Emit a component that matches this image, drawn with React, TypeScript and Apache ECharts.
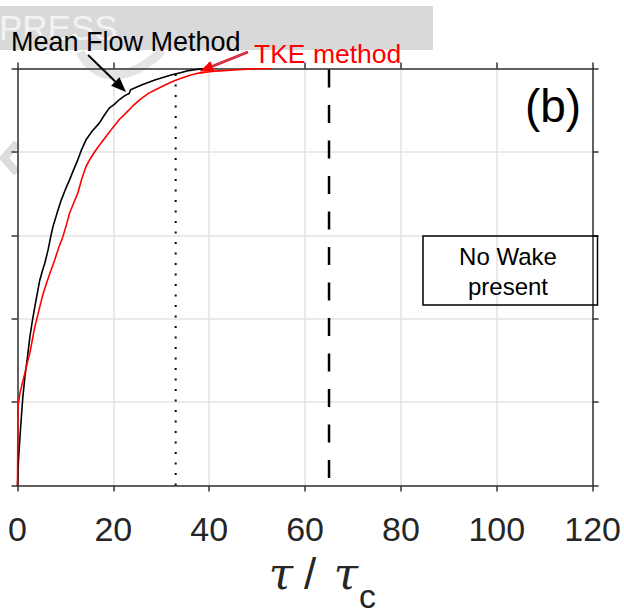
import React, { useEffect, useRef } from "react";
import * as echarts from "echarts";

// Tick labels
const xTicks = [0, 20, 40, 60, 80, 100, 120];

// Mean Flow Method (black) cumulative curve
const meanX = [0, 0.2, 0.66, 1.1, 1.55, 2.1, 2.59, 3.1, 3.62, 4.15, 4.66, 5.2, 5.69, 6.38, 6.9, 7.41, 8.3, 9.14, 10.0, 10.86, 11.7, 12.58, 13.4, 14.3, 15.6, 17.07, 18.1, 19.14, 20.2, 21.2, 22.4, 23.3, 23.6, 24.8, 26.0, 27.4, 28.8, 30.5, 32.2, 34.0, 35.7, 37.0, 38.4, 40.0];
const meanY = [0, 0.06, 0.141, 0.21, 0.261, 0.31, 0.357, 0.395, 0.429, 0.462, 0.493, 0.515, 0.533, 0.565, 0.595, 0.621, 0.655, 0.685, 0.71, 0.733, 0.757, 0.781, 0.806, 0.829, 0.85, 0.869, 0.888, 0.905, 0.914, 0.925, 0.935, 0.94, 0.949, 0.955, 0.961, 0.967, 0.973, 0.979, 0.985, 0.99, 0.995, 0.997, 0.999, 1.0];

// TKE method (red) cumulative curve
const tkeX = [0, 0.05, 0.1, 0.52, 1.0, 1.55, 2.05, 2.59, 3.1, 3.62, 4.15, 4.66, 5.3, 6.04, 6.9, 7.76, 8.6, 9.48, 10.2, 10.86, 11.7, 12.58, 13.4, 14.3, 15.3, 16.4, 17.4, 18.46, 19.8, 21.2, 22.6, 23.96, 25.6, 27.4, 29.1, 30.9, 32.6, 34.3, 36.0, 37.8, 40.5, 43.0, 46.0, 49.0, 53.0];
const tkeY = [0, 0.1, 0.19, 0.222, 0.245, 0.27, 0.295, 0.318, 0.35, 0.381, 0.405, 0.429, 0.458, 0.485, 0.513, 0.541, 0.57, 0.597, 0.625, 0.653, 0.677, 0.701, 0.735, 0.765, 0.786, 0.805, 0.821, 0.837, 0.857, 0.877, 0.893, 0.909, 0.926, 0.941, 0.951, 0.961, 0.97, 0.977, 0.984, 0.989, 0.993, 0.995, 0.997, 0.999, 1.0];

// Reference lines
const dottedX = 33;
const dashedX = 65;

const FONT = "'Liberation Sans', Arial, Helvetica, sans-serif";
const AX = "#333333";

function pairs(xs: number[], ys: number[]) {
  return xs.map((x, i) => [x, ys[i]]);
}

function axisCommon(extra: any) {
  return {
    type: "value",
    axisLine: { show: true, onZero: false, lineStyle: { color: AX, width: 1.5 } },
    axisTick: { show: true, inside: false, length: 6, lineStyle: { color: AX, width: 1.5 } },
    ...extra,
  };
}

export default function App() {
  const ref = useRef<HTMLDivElement>(null);
  useEffect(() => {
    document.body.style.margin = "0";
    const chart = echarts.init(ref.current as HTMLDivElement, null, { renderer: "svg" });

    // arrows
    const bTip = [126, 92];
    const bStart = [88, 55];
    const rTip = [199.5, 71.5];
    const rStart = [248, 52];
    const head = (tip: number[], start: number[], len: number, hw: number) => {
      const dx = tip[0] - start[0];
      const dy = tip[1] - start[1];
      const L = Math.hypot(dx, dy);
      const ux = dx / L, uy = dy / L;
      const bx = tip[0] - len * ux, by = tip[1] - len * uy;
      const px = -uy, py = ux;
      return {
        base: [bx, by],
        pts: [tip, [bx + hw * px, by + hw * py], [bx - hw * px, by - hw * py]],
      };
    };
    const bh = head(bTip, bStart, 15, 6);
    const rh = head(rTip, rStart, 14, 5.5);

    const option: any = {
      animation: false,
      backgroundColor: "#ffffff",
      grid: { left: 17.5, top: 68.5, width: 580, height: 417, containLabel: false },
      xAxis: [
        axisCommon({
          position: "bottom",
          min: 0,
          max: 120,
          interval: 20,
          axisLabel: {
            show: true,
            margin: 26,
            fontSize: 34,
            color: "#262626",
            fontFamily: FONT,
            formatter: (v: number) => (xTicks.includes(v) ? String(v) : ""),
          },
          splitLine: { show: true, lineStyle: { color: "#e3e3e3", width: 1.5 } },
        }),
        axisCommon({
          position: "top",
          min: 0,
          max: 120,
          interval: 20,
          axisLabel: { show: false },
          splitLine: { show: false },
        }),
      ],
      yAxis: [
        axisCommon({
          position: "left",
          min: 0,
          max: 1,
          interval: 0.2,
          axisLabel: { show: false },
          splitLine: { show: true, lineStyle: { color: "#e3e3e3", width: 1.5 } },
        }),
        axisCommon({
          position: "right",
          min: 0,
          max: 1,
          interval: 0.2,
          axisLabel: { show: false },
          splitLine: { show: false },
        }),
      ],
      series: [
        {
          name: "dotted",
          type: "line",
          data: [[dottedX, 0], [dottedX, 1]],
          showSymbol: false,
          silent: true,
          lineStyle: { color: "#000", width: 2, type: [2, 8.5], cap: "butt" },
          z: 1,
        },
        {
          name: "dashed",
          type: "line",
          data: [[dashedX, 1], [dashedX, 0]],
          showSymbol: false,
          silent: true,
          lineStyle: { color: "#000", width: 2.5, type: [18, 17.5], dashOffset: -1.5, cap: "butt" },
          z: 1,
        },
        {
          name: "Mean Flow Method",
          type: "line",
          data: pairs(meanX, meanY),
          showSymbol: false,
          lineStyle: { color: "#000000", width: 1.6 },
          z: 3,
        },
        {
          name: "TKE method",
          type: "line",
          data: pairs(tkeX, tkeY),
          showSymbol: false,
          lineStyle: { color: "#ff0000", width: 1.6 },
          z: 4,
        },
      ],
      graphic: [
        // watermark
        {
          type: "bezierCurve",
          z: 0,
          shape: { x1: 80, y1: 52, x2: 162, y2: 50, cpx1: 100, cpy1: 90, cpx2: 140, cpy2: 75 },
          style: { stroke: "#e4e4e4", lineWidth: 9, fill: "none" },
        },
        {
          type: "polyline",
          z: 0,
          shape: { points: [[17, 143], [4, 158], [17, 173]] },
          style: { stroke: "#dcdcdc", lineWidth: 8, fill: "none" },
        },
        {
          type: "rect",
          z: 1,
          shape: { x: 0, y: 6, width: 433, height: 44 },
          style: { fill: "#d9d9d9" },
        },
        {
          type: "text",
          z: 2,
          x: -1,
          y: 27,
          style: { text: "PRESS", fontSize: 35, fontFamily: FONT, fill: "#f3f3f3", align: "left", verticalAlign: "middle" },
        },
        // annotations
        {
          type: "text",
          z: 20,
          x: 11,
          y: 41.5,
          style: { text: "Mean Flow Method", fontSize: 27, fontFamily: FONT, fill: "#000", align: "left", verticalAlign: "middle" },
        },
        {
          type: "line",
          z: 20,
          shape: { x1: bStart[0], y1: bStart[1], x2: bh.base[0], y2: bh.base[1] },
          style: { stroke: "#000", lineWidth: 2 },
        },
        {
          type: "polygon",
          z: 20,
          shape: { points: bh.pts },
          style: { fill: "#000" },
        },
        {
          type: "text",
          z: 20,
          x: 254,
          y: 54,
          style: { text: "TKE method", fontSize: 26.5, fontFamily: FONT, fill: "#ff0000", align: "left", verticalAlign: "middle" },
        },
        {
          type: "line",
          z: 20,
          shape: { x1: rStart[0], y1: rStart[1], x2: rh.base[0], y2: rh.base[1] },
          style: { stroke: "#ff0000", lineWidth: 2.6 },
        },
        {
          type: "line",
          z: 21,
          shape: { x1: rStart[0], y1: rStart[1], x2: rh.base[0], y2: rh.base[1] },
          style: { stroke: "#7080c0", lineWidth: 0.8 },
        },
        {
          type: "polygon",
          z: 20,
          shape: { points: rh.pts },
          style: { fill: "#ff0000" },
        },
        {
          type: "text",
          z: 20,
          x: 553,
          y: 106,
          style: { text: "(b)", fontSize: 46, fontFamily: FONT, fill: "#000", align: "center", verticalAlign: "middle" },
        },
        {
          type: "rect",
          z: 20,
          shape: { x: 423, y: 236, width: 174.5, height: 69 },
          style: { fill: "none", stroke: "#000", lineWidth: 1.5 },
        },
        {
          type: "text",
          z: 20,
          x: 508,
          y: 256.5,
          style: { text: "No Wake", fontSize: 24, fontFamily: FONT, fill: "#000", align: "center", verticalAlign: "middle" },
        },
        {
          type: "text",
          z: 20,
          x: 508,
          y: 286.7,
          style: { text: "present", fontSize: 24, fontFamily: FONT, fill: "#000", align: "center", verticalAlign: "middle" },
        },
        // axis title  τ / τc
        {
          type: "text",
          z: 20,
          x: 281,
          y: 573,
          style: { text: "τ", fontSize: 44, fontFamily: "'DejaVu Serif', serif", fontStyle: "italic", fill: "#262626", align: "center", verticalAlign: "middle" },
        },
        {
          type: "text",
          z: 20,
          x: 310,
          y: 573,
          style: { text: "/", fontSize: 44, fontFamily: FONT, fill: "#262626", align: "center", verticalAlign: "middle" },
        },
        {
          type: "text",
          z: 20,
          x: 346,
          y: 573,
          style: { text: "τ", fontSize: 44, fontFamily: "'DejaVu Serif', serif", fontStyle: "italic", fill: "#262626", align: "center", verticalAlign: "middle" },
        },
        {
          type: "text",
          z: 20,
          x: 367.5,
          y: 596,
          style: { text: "c", fontSize: 34, fontFamily: FONT, fill: "#262626", align: "center", verticalAlign: "middle" },
        },
      ],
    };
    chart.setOption(option);
    return () => chart.dispose();
  }, []);
  return <div ref={ref} style={{ width: 624, height: 615 }} />;
}
